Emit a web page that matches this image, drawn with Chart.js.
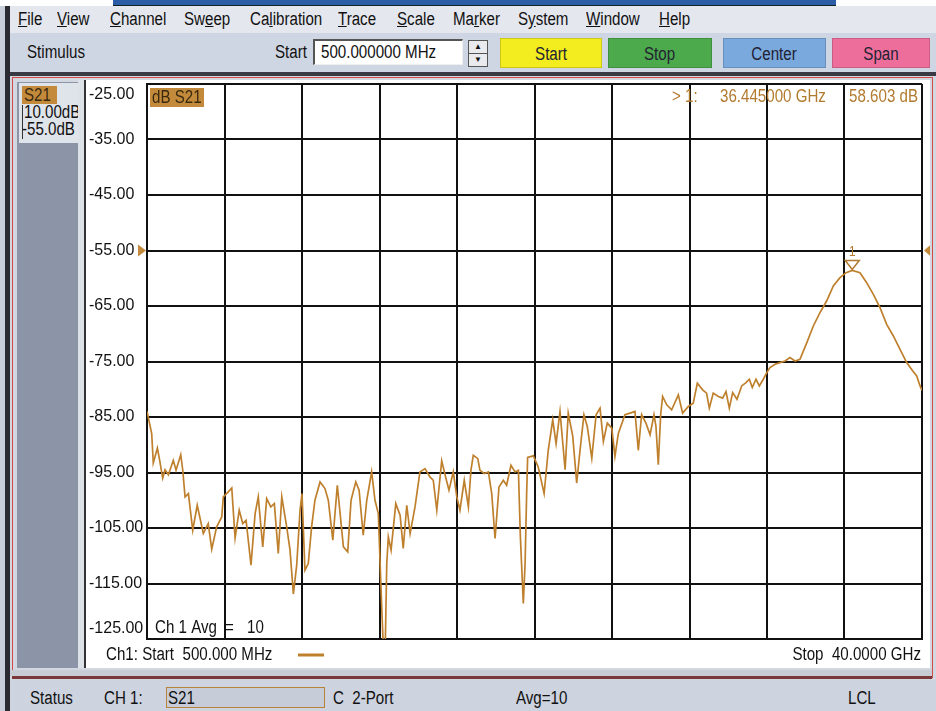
<!DOCTYPE html>
<html>
<head>
<meta charset="utf-8">
<script src="https://cdn.jsdelivr.net/npm/chart.js@4.4.1/dist/chart.umd.min.js"></script>
<style>
  html, body { margin: 0; padding: 0; }
  body {
    width: 936px; height: 711px; position: relative; overflow: hidden; background: #fff;
    font-family: "Liberation Sans", Arial, sans-serif; font-size: 18px; color: #111;
  }
  .abs { position: absolute; }
  /* the analyser uses a narrow face: squeeze Liberation Sans horizontally */
  .txt { position: absolute; white-space: nowrap; line-height: 20px; transform: scaleX(0.84); transform-origin: 0 50%; }
  .btn { position: absolute; top: 38px; height: 30px; line-height: 30px; text-align: center; color: #223; box-sizing: border-box; border: 1px solid rgba(0,0,0,0.15); }
  .btn span { display: inline-block; transform: scaleX(0.84); }
</style>
</head>
<body>
<!-- window chrome -->
<div class="abs" style="left:113px;top:0;width:723px;height:5px;background:#2c5ea8;border-bottom:1px solid #122"></div>
<div class="abs" style="left:0;top:6px;width:936px;height:705px;background:#c9cfda"></div>
<div class="abs" style="left:5px;top:6px;width:5px;height:705px;background:#2a2a30"></div>

<!-- menu bar -->
<div class="abs" style="left:10px;top:6px;width:926px;height:27px;background:#e4e7ee">
  <span class="txt" style="left:8px;top:3px"><u>F</u>ile</span>
  <span class="txt" style="left:47px;top:3px"><u>V</u>iew</span>
  <span class="txt" style="left:100px;top:3px"><u>C</u>hannel</span>
  <span class="txt" style="left:174px;top:3px">Sw<u>e</u>ep</span>
  <span class="txt" style="left:240px;top:3px">Ca<u>l</u>ibration</span>
  <span class="txt" style="left:328px;top:3px"><u>T</u>race</span>
  <span class="txt" style="left:387px;top:3px"><u>S</u>cale</span>
  <span class="txt" style="left:443px;top:3px">Ma<u>r</u>ker</span>
  <span class="txt" style="left:508px;top:3px">S<u>y</u>stem</span>
  <span class="txt" style="left:576px;top:3px"><u>W</u>indow</span>
  <span class="txt" style="left:649px;top:3px"><u>H</u>elp</span>
</div>

<!-- stimulus toolbar -->
<div class="abs" style="left:10px;top:33px;width:926px;height:39px;background:#cfd6e3"></div>
<span class="txt" style="left:27px;top:42px">Stimulus</span>
<span class="txt" style="left:275px;top:42px">Start</span>
<div class="abs" style="left:313px;top:39px;width:150px;height:26px;background:#fff;box-sizing:border-box;border-top:2px solid #555;border-left:2px solid #555;border-right:1px solid #eee;border-bottom:1px solid #eee"></div>
<span class="txt" style="left:321px;top:42px">500.000000 MHz</span>
<div class="abs" style="left:468px;top:40px;width:18px;height:12px;background:#e8eaee;border:1px solid #555;font-size:8px;line-height:12px;text-align:center">&#9650;</div>
<div class="abs" style="left:468px;top:53px;width:18px;height:12px;background:#e8eaee;border:1px solid #555;font-size:8px;line-height:12px;text-align:center">&#9660;</div>
<div class="btn" style="left:500px;width:102px;background:#f3ec1e"><span>Start</span></div>
<div class="btn" style="left:608px;width:104px;background:#4ca94c"><span>Stop</span></div>
<div class="btn" style="left:723px;width:103px;background:#7aa9de"><span>Center</span></div>
<div class="btn" style="left:832px;width:98px;background:#ee6e9b"><span>Span</span></div>
<div class="abs" style="left:10px;top:72px;width:926px;height:4px;background:#3a3a44"></div>

<!-- main channel window -->
<div class="abs" style="left:10px;top:76px;width:926px;height:604px;background:#d3d7df"></div>
<div class="abs" style="left:12px;top:77px;width:919px;height:599px;border:1px solid #d24a4a"></div>
<div class="abs" style="left:17px;top:82px;width:61px;height:586px;background:#8c95a8"></div>
<div class="abs" style="left:19px;top:83px;width:60px;height:60px;background:#dfe3ea;overflow:hidden">
  <div class="abs" style="left:3px;top:3px;width:35px;height:18px;background:#c48a3c"></div>
  <span class="txt" style="left:5px;top:2px;color:#3a2a10">S21</span>
  <div class="abs" style="left:3px;top:22px;width:1px;height:34px;background:#333"></div>
  <span class="txt" style="left:5px;top:20px;line-height:18px">10.00dB</span>
  <span class="txt" style="left:3px;top:37px;line-height:18px">-55.0dB</span>
</div>
<div class="abs" style="left:78px;top:80px;width:7px;height:588px;background:#dde1e8"></div>
<div class="abs" style="left:84px;top:80px;width:2px;height:588px;background:#333"></div>
<div class="abs" style="left:86px;top:80px;width:844px;height:588px;background:#fff"></div>
<div class="abs" style="left:10px;top:670px;width:922px;height:6px;background:#c8ccd4"></div>
<div class="abs" style="left:12px;top:676px;width:920px;height:3px;background:#7a3838"></div>
<canvas id="plot" width="844" height="588" style="position:absolute;left:86px;top:80px"></canvas>

<!-- status bar -->
<div class="abs" style="left:10px;top:680px;width:926px;height:31px;background:#cdd3df"></div>
<span class="txt" style="left:30px;top:688px">Status</span>
<span class="txt" style="left:104px;top:688px">CH 1:</span>
<div class="abs" style="left:166px;top:687px;width:159px;height:21px;box-sizing:border-box;border:1px solid #b8843c;background:#c6cdd9"></div>
<span class="txt" style="left:168px;top:688px">S21</span>
<span class="txt" style="left:333px;top:688px">C&nbsp;&nbsp;2-Port</span>
<span class="txt" style="left:516px;top:688px">Avg=10</span>
<span class="txt" style="left:848px;top:688px">LCL</span>

<script>
// S21 trace (frequency in GHz, magnitude in dB)
const freqGHz = [
  0.50, 0.74, 0.82, 1.03, 1.13, 1.30, 1.42, 1.59, 1.84, 1.98, 2.22, 2.32, 2.44, 2.61, 2.83, 3.06,
  3.37, 3.62, 3.80, 4.05, 4.31, 4.39, 4.64, 4.82, 4.99, 5.20, 5.38, 5.55, 5.80, 6.01, 6.17, 6.40,
  6.60, 6.81, 6.99, 7.19, 7.37, 7.62, 7.79, 7.96, 8.13, 8.30, 8.40, 8.55, 8.72, 8.89, 9.06, 9.32,
  9.57, 9.74, 9.97, 10.20, 10.51, 10.73, 10.90, 11.14, 11.31, 11.52, 11.70, 11.95, 12.12, 12.29,
  12.46, 12.55, 12.64, 12.72, 12.80, 12.94, 13.18, 13.40, 13.56, 13.74, 13.91, 14.16, 14.41, 14.67,
  14.92, 15.09, 15.27, 15.52, 15.72, 15.89, 16.11, 16.29, 16.45, 16.67, 16.88, 17.01, 17.13, 17.36,
  17.47, 17.69, 17.90, 18.07, 18.24, 18.44, 18.66, 18.83, 19.05, 19.26, 19.43, 19.53, 19.68, 19.77,
  19.85, 19.90, 20.19, 20.44, 20.74, 20.95, 21.18, 21.35, 21.55, 21.81, 21.97, 22.20, 22.40, 22.57,
  22.77, 22.94, 23.17, 23.39, 23.59, 23.76, 23.96, 24.19, 24.35, 24.52, 24.86, 25.12, 25.37, 25.54,
  25.71, 25.93, 26.14, 26.34, 26.44, 26.56, 26.68, 26.78, 26.99, 27.24, 27.58, 27.80, 28.09, 28.34,
  28.55, 28.82, 29.02, 29.16, 29.36, 29.62, 29.84, 30.01, 30.18, 30.35, 30.57, 30.81, 31.03, 31.20,
  31.35, 31.54, 31.71, 31.91, 32.09, 32.25, 32.51, 32.76, 33.02, 33.27, 33.53, 33.78, 34.13, 34.46,
  34.80, 35.14, 35.48, 35.82, 36.13, 36.445, 36.84, 37.18, 37.52, 37.86, 38.20, 38.54, 38.88, 39.22,
  39.53, 39.73, 39.90, 40.00
];
const s21dB = [
  -84.0, -88.0, -93.3, -90.6, -92.5, -96.0, -94.5, -95.4, -92.8, -94.6, -91.8, -94.5, -99.4, -98.8, -105.4, -100.9,
  -106.0, -104.2, -108.8, -104.8, -103.0, -99.4, -98.5, -97.8, -106.8, -101.8, -104.2, -103.6, -111.7, -102.4, -99.4, -108.4,
  -99.7, -101.2, -100.6, -109.6, -99.4, -104.8, -109.0, -116.9, -111.7, -101.8, -98.8, -112.6, -111.4, -104.8, -100.0, -96.7,
  -97.9, -100.0, -107.2, -97.3, -108.4, -109.3, -100.0, -96.7, -98.2, -106.3, -100.0, -94.9, -100.0, -102.4,
  -119.0, -127.0, -127.0, -111.4, -106.6, -109.0, -100.6, -102.7, -108.7, -100.9, -106.0, -101.2, -94.9, -94.3,
  -95.8, -96.4, -101.8, -92.9, -95.8, -98.2, -94.9, -99.4, -101.8, -96.4, -101.2, -94.6, -91.9, -92.5,
  -94.6, -95.2, -94.9, -98.8, -106.9, -97.6, -96.4, -97.3, -93.7, -94.9, -94.6, -106.6, -118.6, -111.4,
  -98.8, -92.3, -92.0, -94.0, -98.8, -91.0, -85.5, -89.8, -84.0, -94.5, -84.3, -88.5, -96.9, -91.0,
  -84.6, -86.7, -92.4, -84.6, -83.4, -89.4, -86.1, -87.0, -92.1, -88.0, -84.6, -84.3, -84.0, -91.0,
  -84.6, -86.1, -88.2, -84.6, -86.7, -93.6, -84.6, -81.3, -82.8, -83.7, -81.0, -84.3, -83.1, -82.5,
  -78.9, -80.1, -80.7, -83.4, -80.7, -81.3, -81.6, -80.4, -83.4, -80.6, -81.8, -79.4, -78.8, -78.2,
  -79.7, -78.2, -79.4, -78.2, -77.0, -76.1, -75.5, -75.2, -74.9, -74.3, -74.9, -74.6, -71.6, -68.6,
  -66.2, -64.1, -61.4, -59.9, -59.0, -58.6, -59.0, -60.8, -62.9, -65.3, -68.3, -70.4, -72.8, -75.2,
  -76.7, -77.6, -79.4, -80.2
];

// Stimulus / scale settings shown on screen
const startGHz = 0.5;
const stopGHz = 40;
const xDivisions = 10;
const refLevel = -55;
const scaleTop = -25;
const scaleBottom = -125;
const dbPerDiv = 10;
const markerGHz = 36.445;
const markerDB = -58.603;

const FONT = '"Liberation Sans", Arial, sans-serif';
const TRACE = '#bf802e';
const MARKER = '#b27a2e';

// narrow text: squeeze horizontally around the anchor point
function narrowText(ctx, s, x, y, align) {
  ctx.save();
  ctx.translate(x, y);
  ctx.scale(0.84, 1);
  ctx.textAlign = align || 'left';
  ctx.fillText(s, 0, 0);
  ctx.restore();
}

// screen annotations drawn on top of the grid
const overlay = {
  id: 'overlay',
  afterDraw(chart) {
    const {ctx, chartArea: a, scales: {x, y}} = chart;
    ctx.save();
    ctx.textBaseline = 'middle';
    ctx.font = '18px ' + FONT;

    // trace label box
    ctx.fillStyle = '#c48a3c';
    ctx.fillRect(a.left + 3, a.top + 4, 54, 19);
    ctx.fillStyle = '#3a2a10';
    narrowText(ctx, 'dB S21', a.left + 5, a.top + 14);

    // marker readout
    ctx.fillStyle = MARKER;
    narrowText(ctx, '> 1:', a.left + 525, a.top + 13);
    narrowText(ctx, '36.445000 GHz', a.left + 573, a.top + 13);
    narrowText(ctx, '58.603 dB', a.right - 4, a.top + 13, 'right');

    // averaging label inside the grid
    ctx.fillStyle = '#111';
    narrowText(ctx, 'Ch 1 Avg', a.left + 8, a.bottom - 11);
    narrowText(ctx, '=', a.left + 78, a.bottom - 11);
    narrowText(ctx, '10', a.left + 100, a.bottom - 11);

    // footer
    narrowText(ctx, 'Ch1: Start  500.000 MHz', a.left - 41, a.bottom + 16);
    narrowText(ctx, 'Stop  40.0000 GHz', a.right - 1, a.bottom + 16, 'right');
    ctx.strokeStyle = TRACE;
    ctx.lineWidth = 3;
    ctx.beginPath();
    ctx.moveTo(a.left + 151, a.bottom + 16);
    ctx.lineTo(a.left + 177, a.bottom + 16);
    ctx.stroke();

    // reference level arrows
    const ry = y.getPixelForValue(refLevel);
    ctx.fillStyle = '#c48a3c';
    ctx.beginPath();
    ctx.moveTo(a.left - 9, ry - 6); ctx.lineTo(a.left - 1, ry); ctx.lineTo(a.left - 9, ry + 6);
    ctx.fill();
    ctx.beginPath();
    ctx.moveTo(a.right + 9, ry - 6); ctx.lineTo(a.right + 2, ry); ctx.lineTo(a.right + 9, ry + 6);
    ctx.fill();

    // marker 1
    const mx = x.getPixelForValue(markerGHz);
    const my = y.getPixelForValue(markerDB);
    ctx.strokeStyle = MARKER;
    ctx.lineWidth = 1.5;
    ctx.beginPath();
    ctx.moveTo(mx - 7, my - 10); ctx.lineTo(mx + 7, my - 10); ctx.lineTo(mx, my - 1); ctx.closePath();
    ctx.stroke();
    ctx.fillStyle = MARKER;
    ctx.font = '14px ' + FONT;
    narrowText(ctx, '1', mx, my - 18, 'center');
    ctx.restore();
  }
};

const ctx = document.getElementById('plot').getContext('2d');
new Chart(ctx, {
  type: 'line',
  data: {
    datasets: [{
      data: freqGHz.map((f, i) => ({x: f, y: s21dB[i]})),
      borderColor: TRACE,
      borderWidth: 1.7,
      pointRadius: 0,
      tension: 0
    }]
  },
  options: {
    responsive: false,
    animation: false,
    layout: {padding: {left: 3, top: 4, right: 8, bottom: 29}},
    plugins: {legend: {display: false}, tooltip: {enabled: false}},
    scales: {
      x: {
        type: 'linear',
        min: startGHz,
        max: stopGHz,
        afterBuildTicks: (s) => {
          const step = (stopGHz - startGHz) / xDivisions;
          s.ticks = Array.from({length: xDivisions + 1}, (_, i) => ({value: +(startGHz + i * step).toFixed(4)}));
        },
        afterFit: (s) => { s.height = 0; s.paddingLeft = 0; s.paddingRight = 0; },
        ticks: {display: false},
        grid: {color: '#111', lineWidth: 2, drawTicks: false},
        border: {color: '#111', width: 2}
      },
      y: {
        min: scaleBottom,
        max: scaleTop,
        // fixed label column; the end labels sit inside the grid so they need no extra room
        afterFit: (s) => { s.width = 58; s.paddingTop = 0; s.paddingBottom = 0; },
        ticks: {
          stepSize: dbPerDiv,
          crossAlign: 'far',
          color: '#111',
          font: {family: FONT, size: 16, lineHeight: 1.3},
          callback: (v) => v === scaleTop ? ['', v.toFixed(2)] : v === scaleBottom ? [v.toFixed(2), ''] : v.toFixed(2)
        },
        grid: {color: '#111', lineWidth: 2, drawTicks: false},
        border: {color: '#111', width: 2}
      }
    }
  },
  plugins: [overlay]
});
</script>
</body>
</html>
